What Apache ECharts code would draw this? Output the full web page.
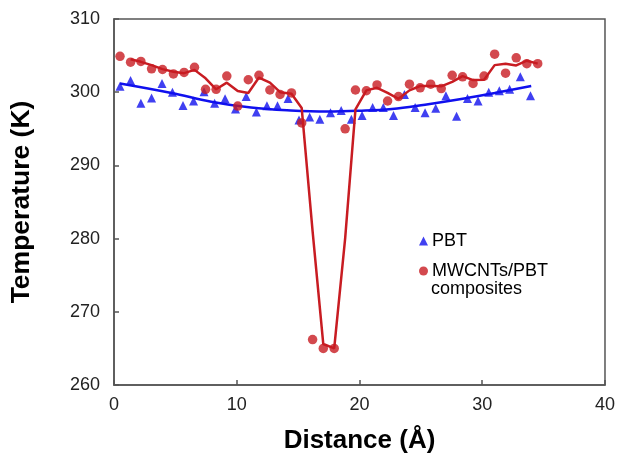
<!DOCTYPE html>
<html>
<head>
<meta charset="utf-8">
<script src="https://cdn.jsdelivr.net/npm/echarts@6/dist/echarts.min.js"></script>
<style>
  html, body { margin: 0; padding: 0; background: #fff; }
  #chart { width: 618px; height: 459px; }
</style>
</head>
<body>
<div id="chart"></div>
<script>
// PBT (triangles)
var pbtX = [0.49, 1.35, 2.19, 3.06, 3.91, 4.76, 5.62, 6.48, 7.33, 8.20, 9.05, 9.90, 10.77, 11.60, 12.46, 13.32, 14.18, 15.07, 15.94, 16.77,
            17.64, 18.51, 19.34, 20.21, 21.07, 21.94, 22.77, 23.66, 24.53, 25.34, 26.21, 27.04, 27.91, 28.80, 29.66, 30.53, 31.39, 32.23, 33.10, 33.93];
var pbtT = [300.8, 301.6, 298.5, 299.2, 301.2, 300.0, 298.2, 298.8, 300.05, 298.5, 299.1, 297.7, 299.4, 297.3, 298.15, 298.15, 299.15, 296.2, 296.6, 296.3,
            297.2, 297.5, 296.3, 296.8, 297.9, 297.9, 296.8, 299.7, 297.9, 297.2, 297.8, 299.5, 296.7, 299.15, 298.8, 300.0, 300.2, 300.4, 302.1, 299.5];
// PBT trend curve
var pbtTrendX = [0.49, 4.68, 7.92, 11.16, 14.40, 17.37, 19.91, 22.64, 25.34, 28.04, 31.01, 33.99];
var pbtTrendT = [301.2, 299.9, 298.7, 297.9, 297.5, 297.35, 297.45, 297.7, 298.3, 299.0, 299.9, 300.85];

// MWCNTs/PBT composites (circles)
var compX = [0.49, 1.35, 2.19, 3.06, 3.95, 4.84, 5.71, 6.56, 7.46, 8.32, 9.19, 10.08, 10.94, 11.81, 12.70, 13.53, 14.46, 15.29, 16.18, 17.05,
             17.94, 18.83, 19.67, 20.56, 21.43, 22.29, 23.18, 24.07, 24.94, 25.80, 26.66, 27.55, 28.40, 29.25, 30.15, 31.01, 31.90, 32.77, 33.63, 34.52];
var compT = [304.9, 304.1, 304.2, 303.2, 303.1, 302.5, 302.7, 303.4, 300.4, 300.4, 302.2, 298.1, 301.7, 302.3, 300.3, 299.7, 299.9, 295.8, 266.2, 265.0,
             265.0, 295.0, 300.3, 300.2, 301.0, 298.8, 299.4, 301.1, 300.6, 301.1, 300.5, 302.3, 302.1, 301.2, 302.2, 305.2, 302.6, 304.7, 303.9, 303.9];
// composites trend line (2-point moving average, as drawn), starts at the 2nd point
var compTrendT = [304.5, 304.15, 303.7, 303.15, 302.8, 302.6, 303.05, 301.9, 300.4, 301.3, 300.15, 299.9, 302.0, 301.3, 300.0, 299.8, 297.85, 281.0, 265.6,
                  265.0, 280.0, 297.65, 300.25, 300.6, 299.9, 299.1, 300.25, 300.85, 300.85, 300.8, 301.4, 302.2, 301.65, 301.7, 303.7, 303.9, 303.65, 304.3, 303.9];

var xTicks = [0, 10, 20, 30, 40];
var yTicks = [260, 270, 280, 290, 300, 310];

function pairs(xs, ys) {
    return ys.map(function (y, i) { return [xs[i], y]; });
}

var RED = '#c81c22';
var BLUE = '#1010ee';
var FONT = '"Liberation Sans", Arial, sans-serif';

var chart = echarts.init(document.getElementById('chart'), null, { renderer: 'canvas' });
var option = {
    animation: false,
    backgroundColor: '#fff',
    grid: {
        left: 112, right: 12, top: 19, bottom: 70,
        show: true, borderColor: '#555', borderWidth: 1.5, backgroundColor: 'transparent'
    },
    xAxis: {
        type: 'value',
        min: xTicks[0], max: xTicks[xTicks.length - 1], interval: 10,
        name: 'Distance (Å)',
        nameLocation: 'middle',
        nameGap: 43,
        nameTextStyle: { fontFamily: FONT, fontSize: 26, fontWeight: 'bold', color: '#000' },
        axisLine: { lineStyle: { color: '#555', width: 1.5 } },
        axisTick: { inside: true, length: 5, lineStyle: { color: '#555', width: 1.5 } },
        axisLabel: { fontFamily: FONT, fontSize: 18, color: '#222', margin: 11 },
        splitLine: { show: false }
    },
    yAxis: {
        type: 'value',
        min: yTicks[0], max: yTicks[yTicks.length - 1], interval: 10,
        name: 'Temperature (K)',
        nameLocation: 'middle',
        nameGap: 79,
        nameTextStyle: { fontFamily: FONT, fontSize: 26.5, fontWeight: 'bold', color: '#000' },
        axisLine: { lineStyle: { color: '#555', width: 1.5 } },
        axisTick: { inside: true, length: 5, lineStyle: { color: '#555', width: 1.5 } },
        axisLabel: { fontFamily: FONT, fontSize: 18, color: '#222', margin: 14 },
        splitLine: { show: false }
    },
    legend: {
        data: ['PBT', 'MWCNTs/PBT'],
        orient: 'vertical',
        left: 414, top: 227,
        itemWidth: 9, itemHeight: 9,
        itemGap: 12,
        textStyle: { fontFamily: FONT, fontSize: 18, color: '#000', padding: [0, 0, 0, -1] }
    },
    graphic: [{
        type: 'text', left: 431, top: 280,
        style: { text: 'composites', font: '18px ' + FONT, fill: '#000' }
    }],
    series: [
        {
            name: 'PBT trend', type: 'line', data: pairs(pbtTrendX, pbtTrendT),
            smooth: 0.4, showSymbol: false, lineStyle: { color: BLUE, width: 2.5 }, z: 2
        },
        {
            name: 'PBT', type: 'scatter', data: pairs(pbtX, pbtT),
            symbol: 'triangle', symbolSize: 9, itemStyle: { color: BLUE }, z: 3
        },
        {
            name: 'composites trend', type: 'line', data: pairs(compX.slice(1), compTrendT),
            showSymbol: false, lineStyle: { color: RED, width: 2.5 }, z: 4
        },
        {
            name: 'MWCNTs/PBT', type: 'scatter', data: pairs(compX, compT),
            symbol: 'circle', symbolSize: 9.5, itemStyle: { color: RED }, z: 5
        }
    ]
};
chart.setOption(option);
</script>
</body>
</html>
